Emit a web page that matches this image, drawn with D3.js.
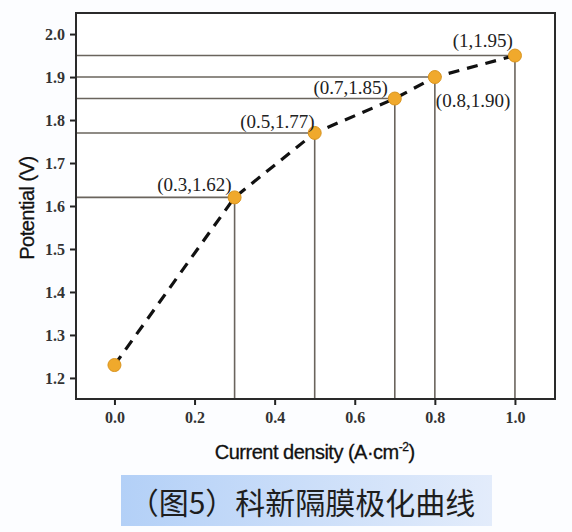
<!DOCTYPE html>
<html>
<head>
<meta charset="utf-8">
<script src="https://cdn.jsdelivr.net/npm/d3@7"></script>
<style>
  body { margin: 0; background: #fcfdff; }
  svg { display: block; }
</style>
</head>
<body>
<div id="chart"></div>
<script>
// data
var currentVals = [0, 0.3, 0.5, 0.7, 0.8, 1.0];
var potentialVals = [1.23, 1.62, 1.77, 1.85, 1.90, 1.95];
var pointLabels = ["", "(0.3,1.62)", "(0.5,1.77)", "(0.7,1.85)", "(0.8,1.90)", "(1,1.95)"];
var xTicks = [0, 0.2, 0.4, 0.6, 0.8, 1.0];
var yTicks = [1.2, 1.3, 1.4, 1.5, 1.6, 1.7, 1.8, 1.9, 2.0];
var caption = "（图5）科新隔膜极化曲线";

var W = 572, H = 532;
var margin = {top: 13, right: 17, bottom: 133, left: 76};
var width = W - margin.left - margin.right;
var height = H - margin.top - margin.bottom;

var svg = d3.select("#chart").append("svg")
    .attr("width", W)
    .attr("height", H);

var g = svg.append("g")
    .attr("transform", "translate(" + margin.left + "," + margin.top + ")");

var x = d3.scaleLinear().domain([-0.096, 1.1]).range([0, width]);
var y = d3.scaleLinear().domain([1.151, 2.049]).range([height, 0]);

var flatData = [];
currentVals.forEach(function(c, idx) {
  flatData.push({x: c, y: potentialVals[idx], label: pointLabels[idx]});
});

// white plot area
g.append("rect")
    .attr("width", width)
    .attr("height", height)
    .style("fill", "#ffffff");

// guide lines (skip the first point)
var guides = flatData.slice(1);
g.selectAll(".hline").data(guides).enter().append("line")
    .attr("x1", 0)
    .attr("x2", function(d) { return x(d.x); })
    .attr("y1", function(d) { return y(d.y); })
    .attr("y2", function(d) { return y(d.y); })
    .style("stroke", "#6a645d")
    .style("stroke-width", 1.6);

g.selectAll(".vline").data(guides).enter().append("line")
    .attr("x1", function(d) { return x(d.x); })
    .attr("x2", function(d) { return x(d.x); })
    .attr("y1", function(d) { return y(d.y); })
    .attr("y2", height)
    .style("stroke", "#6a645d")
    .style("stroke-width", 1.6);

// axes
var tickFont = "'Liberation Serif', 'DejaVu Serif', serif";
var xAxis = g.append("g")
    .attr("transform", "translate(0," + height + ")")
    .call(d3.axisBottom(x).tickValues(xTicks).tickSize(6).tickPadding(7)
      .tickFormat(d3.format(".1f")));
var yAxis = g.append("g")
    .call(d3.axisLeft(y).tickValues(yTicks).tickSize(6).tickPadding(5)
      .tickFormat(d3.format(".1f")));

[xAxis, yAxis].forEach(function(ax) {
  ax.select(".domain").remove();
  ax.selectAll(".tick line").style("stroke", "#222").style("stroke-width", 2);
  ax.selectAll(".tick text")
      .style("font-family", tickFont)
      .style("font-weight", "bold")
      .style("font-size", "16px")
      .style("fill", "#333");
});

// frame
g.append("rect")
    .attr("width", width)
    .attr("height", height)
    .style("fill", "none")
    .style("stroke", "#2a2a2a")
    .style("stroke-width", 2);

// dashed curve
var line = d3.line()
    .x(function(d) { return x(d.x); })
    .y(function(d) { return y(d.y); });

g.append("path")
    .datum(flatData)
    .attr("d", line)
    .style("fill", "none")
    .style("stroke", "#111")
    .style("stroke-width", 3.2)
    .style("stroke-dasharray", "11,8");

// markers
g.selectAll(".dot").data(flatData).enter().append("circle")
    .attr("cx", function(d) { return x(d.x); })
    .attr("cy", function(d) { return y(d.y); })
    .attr("r", 6.5)
    .style("fill", "#f0a92c")
    .style("stroke", "#d99520")
    .style("stroke-width", 1);

// point labels
var labelPos = {
  "(0.3,1.62)": {dx: -3, dy: -6, anchor: "end"},
  "(0.5,1.77)": {dx: 0, dy: -5, anchor: "end"},
  "(0.7,1.85)": {dx: -7, dy: -5, anchor: "end"},
  "(0.8,1.90)": {dx: 1, dy: 30, anchor: "start"},
  "(1,1.95)": {dx: -2, dy: -9, anchor: "end"}
};
g.selectAll(".plabel").data(guides).enter().append("text")
    .attr("x", function(d) { return x(d.x) + labelPos[d.label].dx; })
    .attr("y", function(d) { return y(d.y) + labelPos[d.label].dy; })
    .attr("text-anchor", function(d) { return labelPos[d.label].anchor; })
    .style("font-family", tickFont)
    .style("font-size", "19px")
    .style("fill", "#222")
    .text(function(d) { return d.label; });

// axis titles
var sans = "'Liberation Sans', Arial, sans-serif";
svg.append("text")
    .attr("transform", "translate(34," + (margin.top + height / 2 + 2) + ") rotate(-90)")
    .attr("text-anchor", "middle")
    .style("font-family", sans)
    .style("font-size", "20px")
    .style("letter-spacing", "-0.5px")
    .style("fill", "#111")
    .style("stroke", "#111")
    .style("stroke-width", 0.3)
    .text("Potential (V)");

var xt = svg.append("text")
    .attr("x", margin.left + x(0.5))
    .attr("y", 459)
    .attr("text-anchor", "middle")
    .style("font-family", sans)
    .style("font-size", "20px")
    .style("letter-spacing", "-0.5px")
    .style("fill", "#111")
    .style("stroke", "#111")
    .style("stroke-width", 0.3);
xt.append("tspan").text("Current density (A\u00b7cm");
xt.append("tspan").attr("dy", -8).style("font-size", "12px").text("-2");
xt.append("tspan").attr("dy", 8).text(")");

// caption box
var grad = svg.append("defs").append("linearGradient")
    .attr("id", "capgrad");
grad.append("stop").attr("offset", "0%").attr("stop-color", "#b3d0f7");
grad.append("stop").attr("offset", "100%").attr("stop-color", "#e3ecfb");

svg.append("rect")
    .attr("x", 121)
    .attr("y", 475)
    .attr("width", 371)
    .attr("height", 51)
    .style("fill", "url(#capgrad)");

svg.append("text")
    .attr("x", 302)
    .attr("y", 501)
    .attr("text-anchor", "middle")
    .attr("dominant-baseline", "central")
    .style("font-family", "'Noto Sans CJK SC', sans-serif")
    .style("font-size", "30px")
    .style("fill", "#1e1e1e")
    .text(caption);
</script>
</body>
</html>
